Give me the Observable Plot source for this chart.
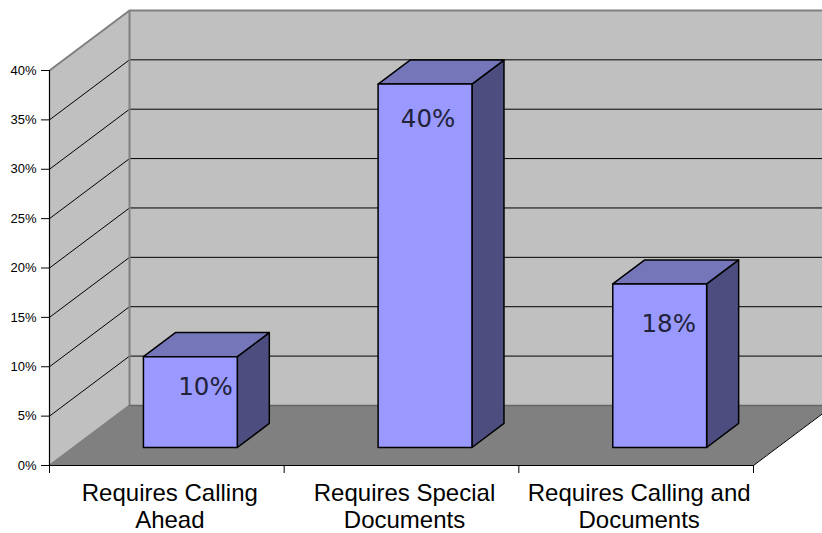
<!DOCTYPE html>
<html>
<head>
<meta charset="utf-8">
<script src="https://cdn.jsdelivr.net/npm/d3@7"></script>
<script src="https://cdn.jsdelivr.net/npm/@observablehq/plot@0.6"></script>
<style>
  html, body { margin: 0; padding: 0; background: #fff; overflow: hidden; }
</style>
</head>
<body>
<div id="chart"></div>
<script>
// Share of destinations by requirement
const categories = [
  "Requires Calling\nAhead",
  "Requires Special\nDocuments",
  "Requires Calling and\nDocuments"
];
const percentages = [10, 40, 18];
const valueTicks = [0, 5, 10, 15, 20, 25, 30, 35, 40];
const categoryEdges = [0, 1, 2, 3];

// Oblique projection: depth 0 is the front of the box, depth 1 the back wall.
const depthX = 0.341;     // category units per full depth
const depthY = 6.08;      // percentage points per full depth
const barFrontDepth = 0.3;
const barBackDepth = 0.7;
const barInset = 0.298;   // gap between a category edge and its bar
const barWidth = 0.4;
const barShrink = 0.92;   // bars sit inside the box, so they read slightly shorter

const at = (c, v, d) => ({x: c + d * depthX, y: v + d * depthY});
const maxValue = d3.max(valueTicks);
const lastEdge = d3.max(categoryEdges);

const backWall = [at(0, 0, 1), at(lastEdge, 0, 1), at(lastEdge, maxValue, 1), at(0, maxValue, 1)];
const sideWall = [at(0, 0, 0), at(0, 0, 1), at(0, maxValue, 1), at(0, maxValue, 0)];
const floorFace = [at(0, 0, 0), at(lastEdge, 0, 0), at(lastEdge, 0, 1), at(0, 0, 1)];

const gridSegments = valueTicks.filter((v) => v > 0 && v < maxValue)
  .flatMap((v) => [at(0, v, 0), at(0, v, 1), at(lastEdge, v, 1)].map((p) => ({...p, v})));
const wallEdge = [at(0, 0, 0), at(0, 0, 1), at(0, maxValue, 1), at(0, maxValue, 0), at(0, maxValue, 1), at(lastEdge, maxValue, 1)];
const floorBack = [at(0, 0, 1), at(lastEdge, 0, 1)];
const floorFront = [at(0, 0, 0), at(lastEdge, 0, 0), at(lastEdge, 0, 1)];

const bars = percentages.map((p, i) => {
  const l = i + barInset, r = l + barWidth, h = p * barShrink;
  const f = barFrontDepth, b = barBackDepth;
  return {
    front: [at(l, 0, f), at(r, 0, f), at(r, h, f), at(l, h, f)],
    side: [at(r, 0, f), at(r, 0, b), at(r, h, b), at(r, h, f)],
    cap: [at(l, h, f), at(r, h, f), at(r, h, b), at(l, h, b)],
    label: {...at(l, h, f), text: `${p}%`}
  };
});
const labelOffsets = [[62, 31], [50, 35], [56, 40]];

const face = (points, fill, stroke = "none", strokeWidth = 1) =>
  Plot.line(points, {x: "x", y: "y", fill, stroke, strokeWidth, curve: "linear-closed", strokeLinejoin: "round"});

const barMarks = bars.flatMap((b, i) => [
  face(b.side, "#4d4d80", "#000", 1.5),
  face(b.cap, "#7575ba", "#000", 1.5),
  face(b.front, "#9999ff", "#000", 1.5),
  Plot.text([b.label], {
    x: "x", y: "y", text: "text",
    dx: labelOffsets[i][0], dy: labelOffsets[i][1],
    fontFamily: "DejaVu Sans", fontSize: 24.5, fill: "#22223a"
  })
]);

const chart = Plot.plot({
  width: 822,
  height: 533,
  marginLeft: 49,
  marginRight: 69,
  marginTop: 70,
  marginBottom: 68,
  style: {background: "#fff", overflow: "hidden"},
  x: {domain: [0, lastEdge], label: null},
  y: {domain: [0, maxValue], label: null},
  marks: [
    face(backWall, "#c0c0c0"),
    face(sideWall, "#c0c0c0"),
    face(floorFace, "#808080"),
    Plot.line(gridSegments, {x: "x", y: "y", z: "v", stroke: "#000", strokeWidth: 1}),
    Plot.line(wallEdge, {x: "x", y: "y", stroke: "#808080", strokeWidth: 2}),
    Plot.line(floorBack, {x: "x", y: "y", stroke: "#666", strokeWidth: 1.5}),
    Plot.line(floorFront, {x: "x", y: "y", stroke: "#000", strokeWidth: 1}),
    Plot.ruleX([0], {y1: 0, y2: maxValue, stroke: "#000", strokeWidth: 1.2}),
    Plot.axisY({
      ticks: valueTicks,
      tickFormat: (d) => `${d}%`,
      tickSize: 8,
      tickPadding: 5,
      fontSize: 13,
      fontFamily: "Liberation Sans",
      label: null
    }),
    Plot.axisX({ticks: categoryEdges, tickSize: 8, text: null, label: null}),
    Plot.text(categories, {
      x: (d, i) => i + 0.5,
      y: 0,
      text: (d) => d,
      dx: 3,
      dy: 16,
      lineAnchor: "top",
      lineHeight: 1.125,
      fontFamily: "Liberation Sans",
      fontSize: 24,
      fill: "#000"
    }),
    ...barMarks
  ]
});
document.getElementById("chart").append(chart);
</script>
</body>
</html>
